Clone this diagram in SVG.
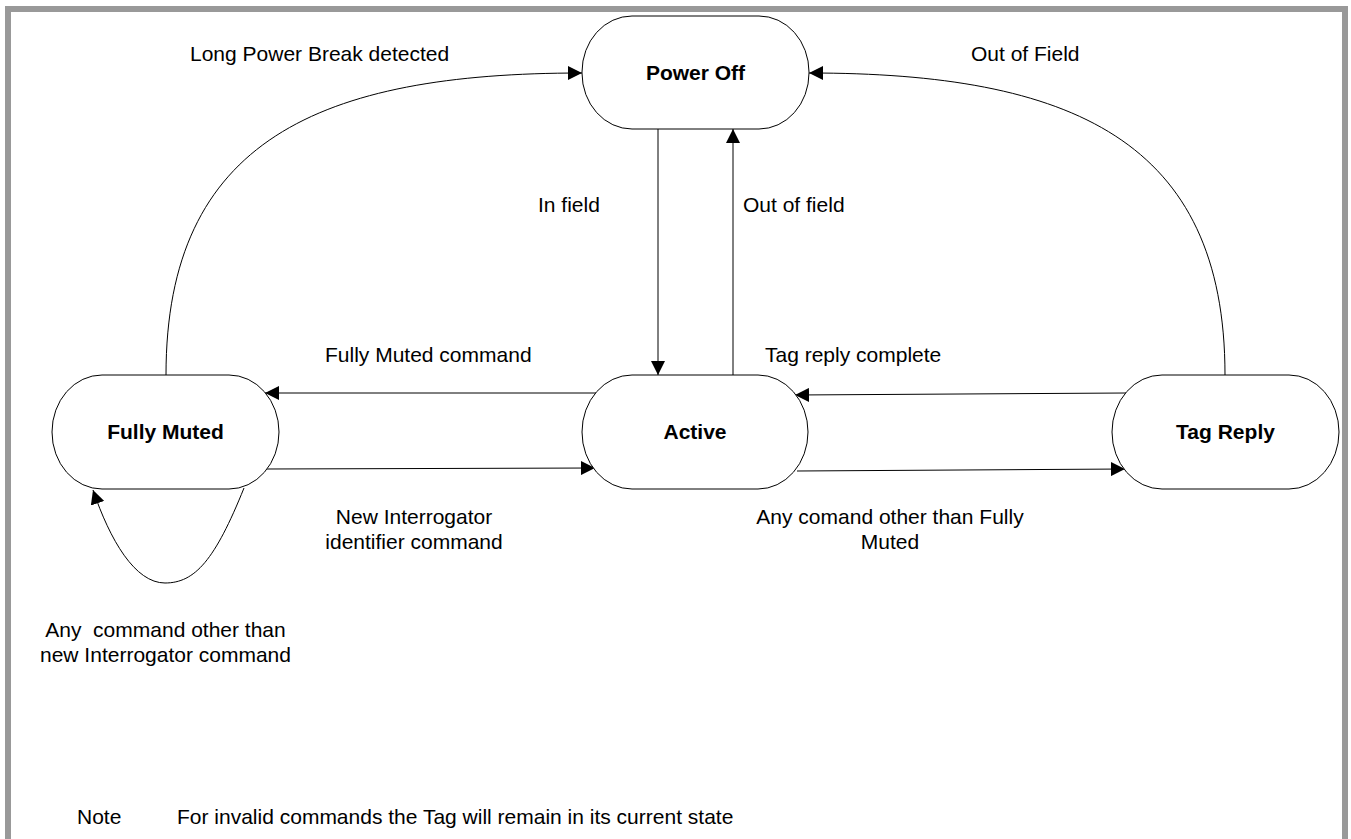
<svg xmlns="http://www.w3.org/2000/svg" width="1351" height="839" viewBox="0 0 1351 839">
<style>
.node{fill:#fff;stroke:#000;stroke-width:1}
.lbl{font-family:"Liberation Sans",Arial,sans-serif;font-size:21px;fill:#000}
.nl{font-family:"Liberation Sans",Arial,sans-serif;font-size:21px;font-weight:bold;fill:#000;text-anchor:middle}
.c{text-anchor:middle}
.edge{fill:none;stroke:#000;stroke-width:1}
</style>
<defs>
<marker id="arr" markerUnits="userSpaceOnUse" markerWidth="14" markerHeight="14" refX="14" refY="7" orient="auto">
<path d="M0,0 L14,7 L0,14 z" fill="#000"/>
</marker>
</defs>
<rect x="0" y="0" width="1351" height="839" fill="#fff"/>
<rect x="8" y="9" width="1337" height="900" fill="#fff" stroke="#999" stroke-width="6"/>

<g id="connectors">
<path class="edge" d="M166,375 C166,140 320,73 582,73" marker-end="url(#arr)"/>
<path class="edge" d="M1225,375 C1225,140 1071,73 809,73" marker-end="url(#arr)"/>
<path class="edge" d="M658,129 L658,375" marker-end="url(#arr)"/>
<path class="edge" d="M733,375 L733,129" marker-end="url(#arr)"/>
<path class="edge" d="M596,393 L265,393" marker-end="url(#arr)"/>
<path class="edge" d="M265,469 L595,468" marker-end="url(#arr)"/>
<path class="edge" d="M1126,393 L795,395" marker-end="url(#arr)"/>
<path class="edge" d="M797,471 L1125,469" marker-end="url(#arr)"/>
<path class="edge" d="M244,488 C215,560 195,583 165,583 C135,583 110,540 93,490" marker-end="url(#arr)"/>
</g>

<g id="node-poweroff">
<rect class="node" x="582" y="16" width="227" height="113" rx="50" ry="56"/>
<text class="nl" x="695.5" y="80">Power Off</text>
</g>
<g id="node-fullymuted">
<rect class="node" x="52" y="375" width="227" height="114" rx="50" ry="57"/>
<text class="nl" x="165.5" y="439">Fully Muted</text>
</g>
<g id="node-active">
<rect class="node" x="582" y="375" width="226" height="114" rx="50" ry="57"/>
<text class="nl" x="695" y="439">Active</text>
</g>
<g id="node-tagreply">
<rect class="node" x="1112" y="375" width="227" height="114" rx="50" ry="57"/>
<text class="nl" x="1225.5" y="439">Tag Reply</text>
</g>

<g id="labels">
<text class="lbl" x="190" y="61">Long Power Break detected</text>
<text class="lbl" x="971" y="61">Out of Field</text>
<text class="lbl" x="538" y="212">In field</text>
<text class="lbl" x="743" y="212">Out of field</text>
<text class="lbl" x="325" y="362">Fully Muted command</text>
<text class="lbl" x="765" y="362">Tag reply complete</text>
<text class="lbl c" x="414" y="524">New Interrogator</text>
<text class="lbl c" x="414" y="549">identifier command</text>
<text class="lbl c" x="890" y="524">Any comand other than Fully</text>
<text class="lbl c" x="890" y="549">Muted</text>
<text class="lbl c" x="165.5" y="637" xml:space="preserve">Any  command other than</text>
<text class="lbl c" x="165.5" y="662">new Interrogator command</text>
<text class="lbl" x="77" y="824">Note</text>
<text class="lbl" x="177" y="824">For invalid commands the Tag will remain in its current state</text>
</g>
</svg>
